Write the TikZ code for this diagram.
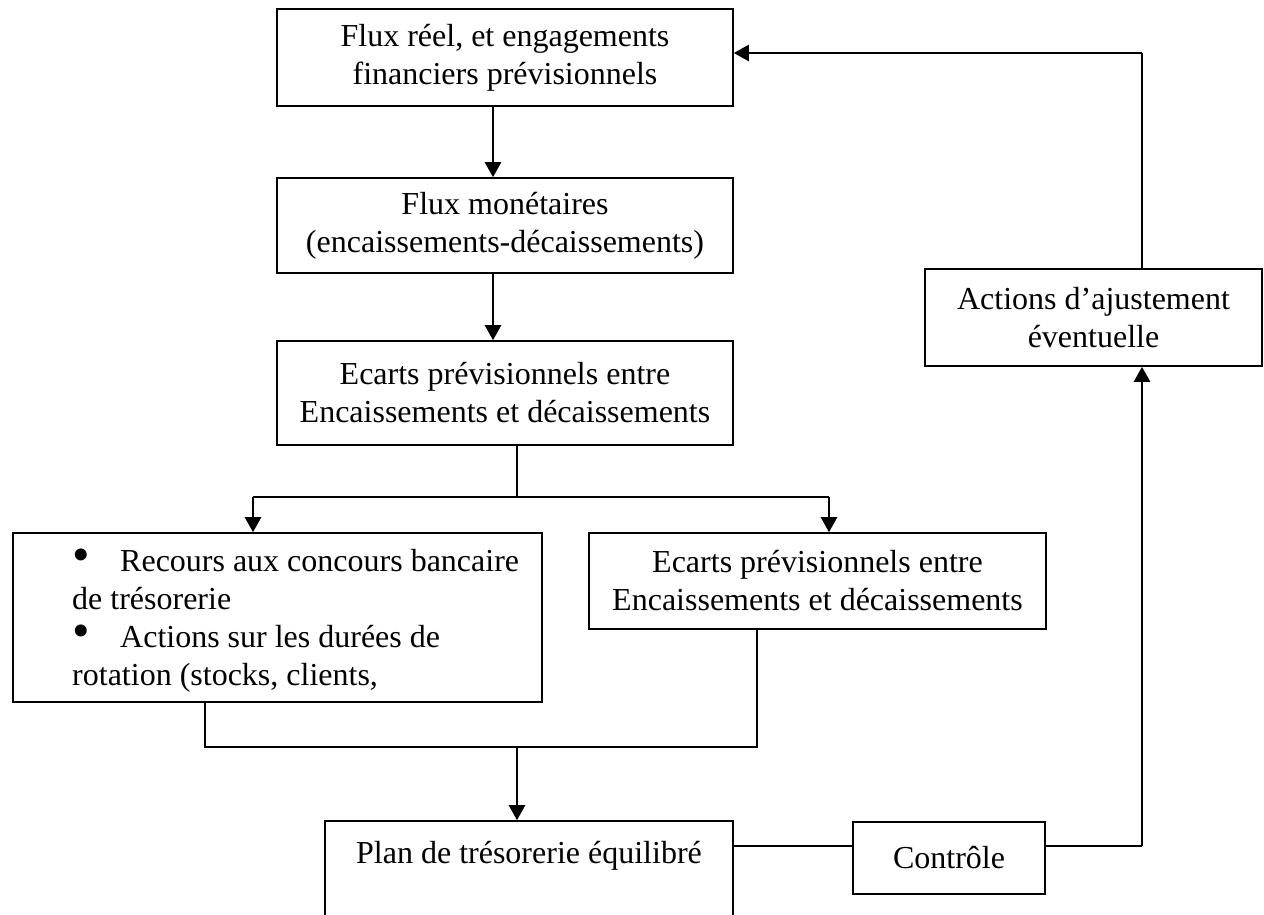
\documentclass[tikz,border=0pt]{standalone}
\usepackage{fontspec}
\setmainfont{Liberation Serif}
\usetikzlibrary{arrows.meta}

\tikzset{
  box/.style={draw, line width=1.6pt, rectangle, inner sep=0pt, align=center,
              font=\fontsize{32}{38}\selectfont},
  txt/.style={inner sep=0pt, font=\fontsize{32}{38}\selectfont},
  ln/.style={line width=1.6pt},
  arr/.style={line width=2.5pt, -{Triangle[length=15pt,width=16pt]}},
}
% list marker: a large bullet that does not change the line height
\newcommand{\listdot}{\makebox[48pt][l]{\smash{\fontsize{50}{38}\selectfont •}}}

\begin{document}
\begin{tikzpicture}[x=1pt, y=-1pt]
  \clip (0,0) rectangle (1264,914);
  \fill[white] (0,0) rectangle (1264,914);

  % main column of boxes
  \node[box, minimum width=456pt, minimum height=97pt] (n1) at (505,57.5)
    {Flux réel, et engagements\\financiers prévisionnels};
  \node[box, minimum width=456pt, minimum height=95pt] (n2) at (505,225.5)
    {Flux monétaires\\(encaissements-décaissements)};
  \node[box, minimum width=456pt, minimum height=104pt] (n3) at (505,393)
    {Ecarts prévisionnels entre\\Encaissements et décaissements};

  % two branches
  \node[box, minimum width=529pt, minimum height=169pt] (L) at (277.5,617.5) {};
  \node[txt, anchor=west, align=left] (Ltext) at (72,621)
    {\listdot Recours aux concours bancaire\\
     de trésorerie\\
     \listdot Actions sur les durées de\\
     rotation (stocks, clients,};
  \node[box, minimum width=457pt, minimum height=96pt] (R) at (817.5,581)
    {Ecarts prévisionnels entre\\Encaissements et décaissements};

  % bottom row and feedback loop
  \node[box, minimum width=408pt, minimum height=100pt] (P) at (529,871)
    {Plan de trésorerie équilibré\\\mbox{}};
  \node[box, minimum width=192pt, minimum height=72pt] (C) at (949,858) {Contrôle};
  \node[box, minimum width=337pt, minimum height=97pt] (A) at (1093.5,317.5)
    {Actions d’ajustement\\éventuelle};

  % routing coordinates
  \coordinate (xa) at (493,0);
  \coordinate (xb) at (517,0);
  \coordinate (xl) at (253,0);
  \coordinate (xr) at (829,0);
  \coordinate (yt) at (0,497);
  \coordinate (xbl) at (205,0);
  \coordinate (xbr) at (757,0);
  \coordinate (yb) at (0,747);
  \coordinate (yc) at (0,846);
  \coordinate (xloop) at (1142,0);
  \coordinate (ytop) at (0,53);

  % connectors
  \draw[arr] (n1.south -| xa) -- (n2.north -| xa);
  \draw[arr] (n2.south -| xa) -- (n3.north -| xa);

  \draw[ln] (n3.south -| xb) -- (xb |- yt);
  \draw[ln] (xl |- yt) -- (xr |- yt);
  \draw[arr] (xl |- yt) -- (L.north -| xl);
  \draw[arr] (xr |- yt) -- (R.north -| xr);

  \draw[ln] (L.south -| xbl) -- (xbl |- yb) -- (xbr |- yb) -- (R.south -| xbr);
  \draw[arr] (xb |- yb) -- (P.north -| xb);

  \draw[ln] (P.east |- yc) -- (C.west |- yc);
  \draw[ln] (C.east |- yc) -- (xloop |- yc);
  \draw[arr] (xloop |- yc) -- (A.south -| xloop);
  \draw[ln] (A.north -| xloop) -- (xloop |- ytop);
  \draw[arr] (xloop |- ytop) -- (n1.east |- ytop);
\end{tikzpicture}
\end{document}
